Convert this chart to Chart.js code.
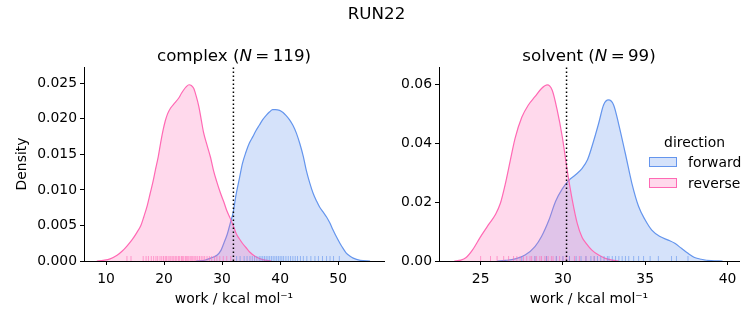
<!DOCTYPE html>
<html>
<head>
<meta charset="utf-8">
<script src="https://cdn.jsdelivr.net/npm/chart.js@4.4.1/dist/chart.umd.min.js"></script>
<style>
  body { margin: 0; background: #fff; font-family: 'DejaVu Sans', sans-serif; }
  #wrap { position: relative; width: 753px; height: 325px; overflow: hidden; }
  canvas { position: absolute; top: 0; }
  .txt { position: absolute; white-space: nowrap; color: #000; line-height: 20px; }
  .box { position: absolute; box-sizing: border-box; width: 28px; height: 10px; border: 1px solid; }
</style>
</head>
<body>
<div id="wrap">
  <canvas id="complexChart" width="390" height="325" style="left:0"></canvas>
  <canvas id="solventChart" width="363" height="325" style="left:390px"></canvas>
  <div class="txt" style="left:0;width:753px;text-align:center;top:3px;font-size:16.7px">RUN22</div>
  <div class="txt" style="left:84px;width:300px;text-align:center;top:45px;font-size:16.7px">complex (<i>N</i>&thinsp;=&thinsp;119)</div>
  <div class="txt" style="left:439px;width:300px;text-align:center;top:45px;font-size:16.7px">solvent (<i>N</i>&thinsp;=&thinsp;99)</div>
  <div id="legend"></div>
</div>
<script>
// --- data ---
const directions = ["forward", "reverse"];
const lineColors = ["rgb(100,149,237)", "rgb(255,105,180)"];
const fillColors = ["rgba(100,149,237,0.27)", "rgba(255,105,180,0.25)"];
const rugColors = ["rgba(100,149,237,0.6)", "rgba(255,105,180,0.6)"];

// complex, forward KDE
const complexFwdX = [25.5, 27.0, 28.0, 29.1, 29.8, 30.3, 30.9, 31.4, 31.9, 32.4, 33.0, 33.5, 34.1, 34.7, 35.3, 35.8, 36.4, 37.0, 37.6, 38.2, 38.7, 39.2, 39.9, 40.5, 41.0, 41.6, 42.2, 42.8, 43.4, 44.0, 44.5, 45.1, 45.7, 46.3, 46.8, 47.4, 48.0, 48.6, 49.1, 49.7, 50.3, 50.9, 51.4, 52.0, 52.6, 53.8, 55.5];
const complexFwdY = [0, 0.0001, 0.0004, 0.0008, 0.0015, 0.0025, 0.0038, 0.0053, 0.0068, 0.0093, 0.0117, 0.0137, 0.0153, 0.0166, 0.0175, 0.0183, 0.0191, 0.0199, 0.0205, 0.021, 0.0213, 0.0213, 0.0212, 0.0209, 0.0205, 0.0199, 0.0191, 0.018, 0.0165, 0.0147, 0.0128, 0.011, 0.0095, 0.0084, 0.0076, 0.0069, 0.0062, 0.0053, 0.0044, 0.0034, 0.0025, 0.0017, 0.0011, 0.0007, 0.0004, 0.0001, 0];
// complex, reverse KDE
const complexRevX = [8.4, 9.5, 10.7, 11.9, 12.8, 13.6, 14.5, 15.3, 16.0, 16.5, 17.1, 17.6, 18.1, 18.5, 19.0, 19.4, 19.8, 20.2, 20.6, 21.1, 21.8, 22.5, 23.0, 23.4, 23.8, 24.3, 24.7, 25.1, 25.5, 26.0, 26.4, 26.8, 27.4, 28.0, 28.5, 29.1, 29.7, 30.3, 30.8, 31.4, 32.0, 32.4, 33.0, 33.5, 34.1, 34.7, 35.8, 37.0, 38.5];
const complexRevY = [0, 0.0001, 0.0003, 0.0008, 0.0014, 0.0021, 0.003, 0.004, 0.005, 0.0062, 0.0078, 0.0095, 0.0112, 0.0128, 0.0147, 0.0166, 0.0183, 0.0197, 0.0207, 0.0215, 0.0222, 0.0229, 0.0236, 0.0241, 0.0245, 0.0248, 0.0247, 0.0243, 0.0233, 0.0217, 0.0199, 0.0181, 0.0163, 0.0146, 0.0128, 0.0111, 0.0096, 0.0083, 0.0071, 0.006, 0.0048, 0.0039, 0.0031, 0.0025, 0.0019, 0.0013, 0.0006, 0.0002, 0];
// complex rug samples
const complexFwdRug = [32.5, 33.1, 33.8, 34.3, 34.8, 35.2, 35.6, 36.0, 36.4, 36.7, 37.0, 37.3, 37.6, 37.9, 38.2, 38.5, 38.8, 39.1, 39.4, 39.7, 40.0, 40.3, 40.6, 41.0, 41.4, 41.8, 42.2, 42.6, 43.0, 43.5, 44.0, 44.6, 45.3, 46.0, 46.6, 47.3, 48.0, 48.6, 49.2, 50.2];
const complexRevRug = [13.6, 14.3, 16.4, 16.9, 17.3, 17.8, 18.2, 18.6, 18.9, 19.3, 19.6, 19.9, 20.2, 20.4, 20.7, 21.0, 21.2, 21.5, 21.7, 22.0, 22.2, 22.5, 22.7, 23.0, 23.2, 23.4, 23.7, 23.9, 24.1, 24.3, 24.6, 24.8, 25.0, 25.3, 25.5, 25.8, 26.1, 26.4, 26.7, 27.0, 27.4, 27.8, 28.2, 28.7, 29.1, 29.6, 30.2, 30.8, 31.5];
const complexCut = 31.95;

// solvent, forward KDE
const solventFwdX = [26.0, 26.5, 27.1, 27.7, 28.3, 28.7, 29.15, 29.55, 29.96, 30.36, 30.77, 31.17, 31.5, 31.76, 32.17, 32.47, 32.77, 33.08, 33.38, 33.79, 34.19, 34.6, 35.0, 35.4, 35.9, 36.4, 36.8, 37.2, 37.6, 38.0, 38.4, 39.0, 39.7];
const solventFwdY = [0, 0.0002, 0.0007, 0.002, 0.0049, 0.0083, 0.0139, 0.0202, 0.0245, 0.0274, 0.0293, 0.0315, 0.0345, 0.0388, 0.0467, 0.053, 0.0547, 0.053, 0.0467, 0.0366, 0.0264, 0.0185, 0.0139, 0.0105, 0.0083, 0.0071, 0.006, 0.0043, 0.0026, 0.0012, 0.0006, 0.0001, 0];
// solvent, reverse KDE
const solventRevX = [23.4, 23.8, 24.1, 24.5, 25.0, 25.5, 25.9, 26.2, 26.5, 26.8, 27.1, 27.5, 27.9, 28.3, 28.7, 29.05, 29.35, 29.65, 29.96, 30.26, 30.57, 30.87, 31.17, 31.4, 31.76, 32.17, 32.57, 33.0, 33.4];
const solventRevY = [0, 0.0003, 0.0011, 0.0037, 0.0083, 0.0125, 0.0158, 0.0196, 0.0262, 0.0341, 0.0418, 0.0488, 0.053, 0.0558, 0.0586, 0.0598, 0.058, 0.0513, 0.0422, 0.0309, 0.0207, 0.0128, 0.0080, 0.0061, 0.0037, 0.002, 0.0009, 0.0003, 0];
// solvent rug samples
const solventFwdRug = [27.5, 28.3, 29.0, 29.6, 30.0, 30.4, 30.8, 31.1, 31.4, 31.7, 31.9, 32.1, 32.3, 32.5, 32.7, 32.8, 33.0, 33.2, 33.4, 33.6, 33.8, 34.0, 34.3, 34.6, 34.9, 35.3, 35.8, 36.6, 36.9, 37.6];
const solventRevRug = [25.0, 25.6, 26.0, 26.4, 26.7, 27.0, 27.2, 27.4, 27.6, 27.8, 28.0, 28.1, 28.3, 28.4, 28.6, 28.7, 28.9, 29.0, 29.1, 29.3, 29.4, 29.6, 29.8, 30.0, 30.2, 30.4, 30.7, 31.0, 31.4, 31.9];
const solventCut = 30.22;

// ticks
const complexXTicks = [10, 20, 30, 40, 50];
const complexYTicks = [0, 0.005, 0.01, 0.015, 0.02, 0.025];
const solventXTicks = [25, 30, 35, 40];
const solventYTicks = [0, 0.02, 0.04, 0.06];

Chart.defaults.font.family = "'DejaVu Sans', sans-serif";
Chart.defaults.font.size = 13.9;
Chart.defaults.color = '#000';

function pts(xs, ys) { return xs.map((x, i) => ({x: x, y: ys[i]})); }

function makeChart(id, opt) {
  const kde = (xs, ys, k) => ({
    data: pts(xs, ys), borderColor: lineColors[k], backgroundColor: fillColors[k],
    borderWidth: 1.2, fill: 'origin', pointRadius: 0, cubicInterpolationMode: 'monotone'
  });
  const rug = (vals, k) => ({
    data: vals.map(v => ({x: v, y: 0})), showLine: false, pointStyle: 'line', pointRotation: 90,
    pointRadius: 5, pointBorderWidth: 1, pointBorderColor: rugColors[k], clip: 0
  });
  return new Chart(document.getElementById(id), {
    type: 'line',
    data: {
      datasets: [
        { data: [{x: opt.cut, y: 0}, {x: opt.cut, y: opt.ymax}], borderColor: '#000', borderWidth: 1.5,
          borderDash: [1.5, 2.5], pointRadius: 0, fill: false },
        rug(opt.fwdRug, 0),
        rug(opt.revRug, 1),
        kde(opt.revX, opt.revY, 1),
        kde(opt.fwdX, opt.fwdY, 0)
      ]
    },
    options: {
      responsive: false,
      animation: false,
      events: [],
      layout: { padding: { left: 0, right: opt.padRight, top: 67, bottom: 0 } },
      plugins: { legend: { display: false }, tooltip: { enabled: false } },
      scales: {
        x: {
          type: 'linear', min: opt.xmin, max: opt.xmax,
          afterBuildTicks: s => { s.ticks = opt.xticks.map(v => ({value: v})); },
          afterFit: s => { s.height = 64; },
          ticks: { padding: 6, callback: v => String(v) },
          grid: { drawOnChartArea: false, drawTicks: true, tickLength: 4, tickColor: '#000' },
          border: { display: true, color: '#000', width: 1 },
          title: { display: true, text: 'work / kcal mol⁻¹', padding: { top: 0, bottom: 17.2 } }
        },
        y: {
          type: 'linear', min: 0, max: opt.ymax,
          afterBuildTicks: s => { s.ticks = opt.yticks.map(v => ({value: v})); },
          afterFit: s => { s.width = opt.yWidth; },
          ticks: { padding: 3, callback: v => v.toFixed(opt.decimals) },
          grid: { drawOnChartArea: false, drawTicks: true, tickLength: 4, tickColor: '#000' },
          border: { display: true, color: '#000', width: 1 },
          title: { display: opt.ylabel !== '', text: opt.ylabel, padding: { top: 14, bottom: 0 } }
        }
      }
    }
  });
}

makeChart('complexChart', {
  fwdX: complexFwdX, fwdY: complexFwdY, revX: complexRevX, revY: complexRevY,
  fwdRug: complexFwdRug, revRug: complexRevRug, cut: complexCut,
  xmin: 6.2, xmax: 57.9, ymax: 0.0273, xticks: complexXTicks, yticks: complexYTicks,
  decimals: 3, yWidth: 84, padRight: 6, ylabel: 'Density'
});
makeChart('solventChart', {
  fwdX: solventFwdX, fwdY: solventFwdY, revX: solventRevX, revY: solventRevY,
  fwdRug: solventFwdRug, revRug: solventRevRug, cut: solventCut,
  xmin: 22.47, xmax: 40.7, ymax: 0.0659, xticks: solventXTicks, yticks: solventYTicks,
  decimals: 2, yWidth: 49, padRight: 14, ylabel: ''
});

// legend (inside the solvent axes)
const lg = document.getElementById('legend');
let html = '<div class="txt" style="left:645px;width:99px;text-align:center;top:132px;font-size:13.9px">direction</div>';
directions.forEach((d, k) => {
  const top = 157 + k * 21;
  html += '<div class="box" style="left:649px;top:' + top + 'px;background:' + fillColors[k] + ';border-color:' + lineColors[k] + '"></div>';
  html += '<div class="txt" style="left:688px;top:' + (top - 5) + 'px;font-size:13.9px">' + d + '</div>';
});
lg.innerHTML = html;
</script>
</body>
</html>
